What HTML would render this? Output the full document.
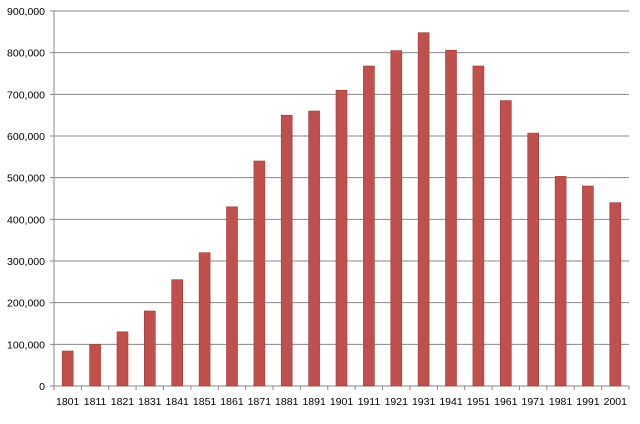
<!DOCTYPE html><html><head><style>body{margin:0;background:#fff}</style></head><body>
<svg width="640" height="419" xmlns="http://www.w3.org/2000/svg" font-family="Liberation Sans, sans-serif" font-size="10.5" fill="#000">
<path d="M54 344.33H629M54 302.67H629M54 261H629M54 219.33H629M54 177.67H629M54 136H629M54 94.33H629M54 52.67H629M54 11H629" stroke="#8a8a8a" stroke-width="1" fill="none"/>
<path d="M50 386H54M50 344.33H54M50 302.67H54M50 261H54M50 219.33H54M50 177.67H54M50 136H54M50 94.33H54M50 52.67H54M50 11H54M54 11V386H629M54 386v4M81.38 386v4M108.76 386v4M136.14 386v4M163.52 386v4M190.9 386v4M218.29 386v4M245.67 386v4M273.05 386v4M300.43 386v4M327.81 386v4M355.19 386v4M382.57 386v4M409.95 386v4M437.33 386v4M464.71 386v4M492.1 386v4M519.48 386v4M546.86 386v4M574.24 386v4M601.62 386v4M629 386v4" stroke="#8a8a8a" stroke-width="1" fill="none"/>
<g text-anchor="end">
<text x="45" y="390">0</text><text x="45" y="348.33">100,000</text><text x="45" y="306.67">200,000</text><text x="45" y="265">300,000</text><text x="45" y="223.33">400,000</text><text x="45" y="181.67">500,000</text><text x="45" y="140">600,000</text><text x="45" y="98.33">700,000</text><text x="45" y="56.67">800,000</text><text x="45" y="15">900,000</text>
</g>
<g fill="#c0504d" stroke="#9e3b38" stroke-width="0.6">
<rect x="62.2" y="351" width="11" height="35"/>
<rect x="89.6" y="344.3" width="11" height="41.7"/>
<rect x="117" y="331.8" width="11" height="54.2"/>
<rect x="144.3" y="311" width="11" height="75"/>
<rect x="171.7" y="279.7" width="11" height="106.3"/>
<rect x="199.1" y="252.7" width="11" height="133.3"/>
<rect x="226.5" y="206.8" width="11" height="179.2"/>
<rect x="253.9" y="161" width="11" height="225"/>
<rect x="281.2" y="115.2" width="11" height="270.8"/>
<rect x="308.6" y="111" width="11" height="275"/>
<rect x="336" y="90.2" width="11" height="295.8"/>
<rect x="363.4" y="66" width="11" height="320"/>
<rect x="390.8" y="50.6" width="11" height="335.4"/>
<rect x="418.1" y="32.7" width="11" height="353.3"/>
<rect x="445.5" y="50.2" width="11" height="335.8"/>
<rect x="472.9" y="66" width="11" height="320"/>
<rect x="500.3" y="100.6" width="11" height="285.4"/>
<rect x="527.7" y="133.1" width="11" height="252.9"/>
<rect x="555.1" y="176.4" width="11" height="209.6"/>
<rect x="582.4" y="186" width="11" height="200"/>
<rect x="609.8" y="202.7" width="11" height="183.3"/>
</g>
<g text-anchor="middle">
<text x="67.69" y="405">1801</text><text x="95.07" y="405">1811</text><text x="122.45" y="405">1821</text><text x="149.83" y="405">1831</text><text x="177.21" y="405">1841</text><text x="204.6" y="405">1851</text><text x="231.98" y="405">1861</text><text x="259.36" y="405">1871</text><text x="286.74" y="405">1881</text><text x="314.12" y="405">1891</text><text x="341.5" y="405">1901</text><text x="368.88" y="405">1911</text><text x="396.26" y="405">1921</text><text x="423.64" y="405">1931</text><text x="451.02" y="405">1941</text><text x="478.4" y="405">1951</text><text x="505.79" y="405">1961</text><text x="533.17" y="405">1971</text><text x="560.55" y="405">1981</text><text x="587.93" y="405">1991</text><text x="615.31" y="405">2001</text>
</g>
</svg></body></html>
